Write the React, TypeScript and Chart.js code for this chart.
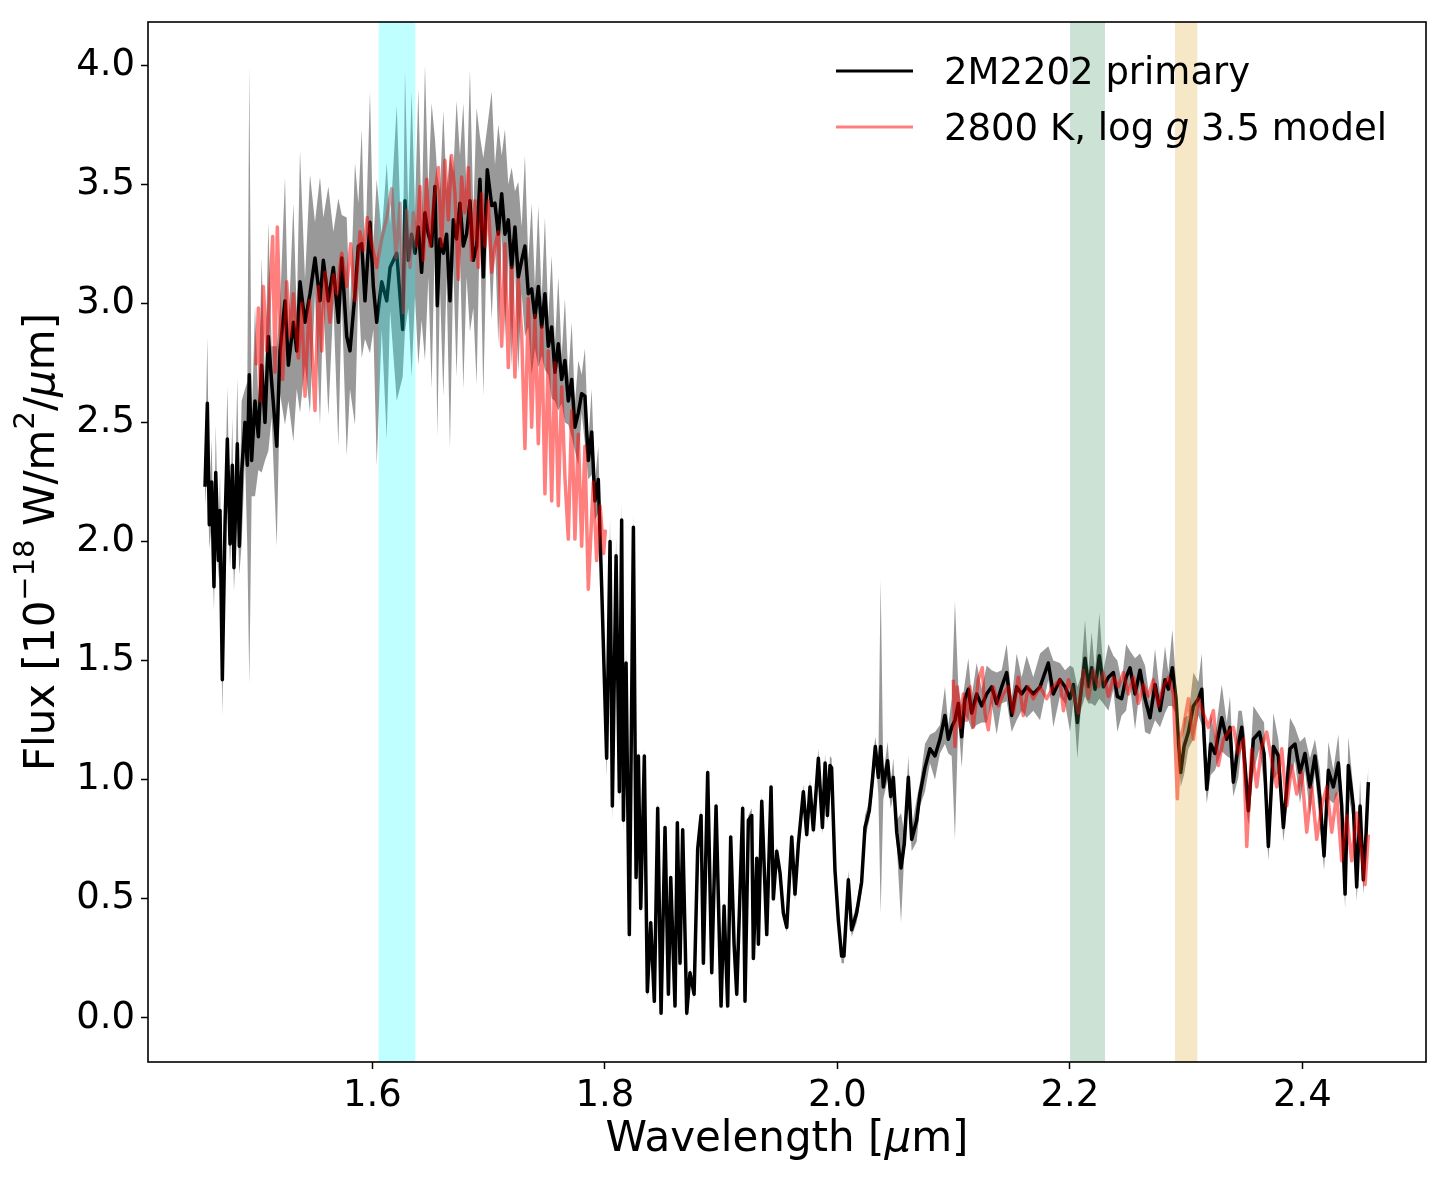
import React, { useEffect, useRef } from "react";
import { Chart, registerables } from "chart.js";

Chart.register(...registerables);

// ---------- axis extents & ticks ----------
const xMin = 1.40705;
const xMax = 2.5064;
const yMin = -0.1847;
const yMax = 4.1805;
const xTicks = [1.6, 1.8, 2.0, 2.2, 2.4];
const yTicks = [0.0, 0.5, 1.0, 1.5, 2.0, 2.5, 3.0, 3.5, 4.0];

// ---------- shaded wavelength windows ----------
const bandStarts = [1.6055, 2.2002, 2.2905];
const bandEnds = [1.637, 2.2303, 2.3097];
const bandColors = ["rgba(0,255,255,0.25)", "rgba(46,139,87,0.25)", "rgba(218,165,32,0.25)"];

// ---------- legend ----------
const legendPrimary = "2M2202 primary";
const legendModelParts = ["2800 K, log ", "g", " 3.5 model"];

// ---------- observed spectrum (2M2202 primary) ----------
const waveA = [
  1.4561, 1.4581, 1.4598, 1.4618, 1.4638, 1.4653, 1.4676, 1.469, 1.471, 1.4733,
  1.4753, 1.4776, 1.4796, 1.481, 1.4839, 1.4856, 1.4876, 1.4905, 1.4925, 1.4942,
  1.4962, 1.4991, 1.502, 1.5048, 1.5077, 1.5106, 1.5134, 1.5178, 1.5206, 1.5249,
  1.5278, 1.5321, 1.535, 1.5378, 1.5421, 1.5464, 1.5507, 1.555, 1.5579, 1.5622,
  1.5665, 1.5708, 1.5737, 1.578, 1.5808, 1.5851, 1.588, 1.5909, 1.5937, 1.598,
  1.6009, 1.6038, 1.6081, 1.6124, 1.6153, 1.621, 1.6261,
];
const fluxA = [
  2.23, 2.58, 2.07, 2.25, 1.81, 2.29, 1.92, 2.13, 1.42, 2.07,
  2.43, 1.99, 2.32, 1.89, 2.41, 1.98, 2.29, 2.5, 2.32, 2.7,
  2.34, 2.59, 2.44, 2.74, 2.5, 2.86, 2.67, 2.4, 2.8, 3.01,
  2.74, 2.92, 2.8, 3.09, 2.92, 3.04, 3.19, 3.01, 3.18, 3.01,
  3.15, 2.92, 3.19, 2.86, 2.8, 3.04, 3.24, 3.25, 3.01, 3.34,
  3.07, 2.92, 3.09, 3.01, 3.15, 3.21, 2.89,
];
const errA = [
  0.08, 0.28, 0.1, 0.18, 0.1, 0.2, 0.08, 0.16, 0.15, 0.1,
  0.22, 0.1, 0.2, 0.1, 0.28, 0.12, 0.3, 0.14, 0.35, 1.3,
  0.15, 0.4, 0.14, 0.45, 0.16, 0.48, 0.15, 0.42, 0.18, 0.52,
  0.15, 0.5, 0.16, 0.55, 0.18, 0.5, 0.15, 0.52, 0.18, 0.48,
  0.15, 0.52, 0.18, 0.5, 0.16, 0.55, 0.18, 0.48, 0.16, 0.55,
  0.18, 0.6, 0.2, 0.58, 0.18, 0.62, 0.2,
];

const waveB = [
  1.6281, 1.631, 1.6338, 1.6367, 1.6396, 1.6424, 1.6453, 1.6482, 1.651, 1.6539,
  1.6559, 1.6582, 1.6611, 1.6639, 1.6668, 1.6697, 1.6725, 1.6754, 1.6783, 1.6811,
  1.684, 1.6869, 1.6897, 1.6926, 1.6955, 1.6989, 1.7027, 1.7055, 1.7084, 1.7113,
  1.7141, 1.717, 1.7199, 1.7227, 1.7256, 1.7285, 1.7313, 1.7342, 1.7371, 1.7399,
  1.7428, 1.7457, 1.7485, 1.7514, 1.7543, 1.7571, 1.76, 1.7629, 1.7657, 1.7686,
  1.7715, 1.7743, 1.7772, 1.7801, 1.7829, 1.7858, 1.7887, 1.7915, 1.7944,
];
const fluxB = [
  3.43, 3.18, 3.29, 3.21, 3.32, 3.13, 3.38, 3.29, 3.24, 3.49,
  2.99, 3.27, 3.21, 3.29, 3.01, 3.35, 3.27, 3.42, 3.24, 3.29,
  3.43, 3.18, 3.24, 3.52, 3.11, 3.56, 3.41, 3.42, 3.29, 3.46,
  3.29, 3.35, 3.15, 3.32, 3.11, 3.18, 3.24, 3.04, 3.06, 2.94,
  3.07, 2.9, 3.04, 2.82, 2.9, 2.71, 2.83, 2.68, 2.76, 2.59,
  2.68, 2.48, 2.54, 2.62, 2.61, 2.34, 2.46, 2.17, 2.26,
];
const errB = [
  0.55, 0.2, 0.6, 0.18, 0.58, 0.2, 0.62, 0.18, 0.6, 0.2,
  0.55, 0.2, 0.6, 0.18, 0.62, 0.2, 0.58, 0.2, 0.6, 0.18,
  0.55, 0.2, 0.58, 0.18, 0.5, 0.18, 0.48, 0.16, 0.46, 0.16,
  0.44, 0.15, 0.42, 0.15, 0.4, 0.14, 0.38, 0.14, 0.36, 0.13,
  0.34, 0.12, 0.32, 0.12, 0.3, 0.12, 0.28, 0.1, 0.26, 0.1,
  0.24, 0.1, 0.22, 0.08, 0.2, 0.08, 0.18, 0.08, 0.14,
];

const waveC = [
  1.7973, 1.8016, 1.8045, 1.8065, 1.8097, 1.8125, 1.8145, 1.816, 1.8183, 1.8211,
  1.8246, 1.8269, 1.8289, 1.8309, 1.834, 1.8366, 1.8395, 1.8426, 1.8455, 1.8484,
  1.8518, 1.8547, 1.8567, 1.8604, 1.8624, 1.8647, 1.867, 1.8705, 1.8733, 1.8768,
  1.8799, 1.8828, 1.8848, 1.8885, 1.892, 1.8957, 1.9, 1.9026, 1.9057, 1.9083,
  1.9112, 1.9135, 1.9163, 1.9186, 1.9206, 1.9235, 1.9264, 1.9278, 1.9307, 1.9321,
  1.935, 1.9393, 1.943, 1.945, 1.9479, 1.9507, 1.9536, 1.9565, 1.9608, 1.9636,
  1.9665, 1.9708, 1.9737, 1.9765, 1.9794, 1.9837, 1.9872, 1.9895, 1.9915, 1.9937,
];
const fluxC = [
  1.81, 1.09, 2.0, 0.89, 1.94, 0.95, 2.09, 0.83, 1.49, 0.35,
  2.06, 0.59, 1.1, 0.46, 1.1, 0.11, 0.4, 0.07, 0.88, 0.02,
  0.8, 0.1, 0.59, 0.05, 0.82, 0.23, 0.79, 0.02, 0.19, 0.1,
  0.71, 0.85, 0.23, 1.03, 0.19, 0.89, 0.05, 0.47, 0.05, 0.76,
  0.31, 0.1, 0.53, 0.88, 0.07, 0.83, 0.85, 0.25, 0.67, 0.31,
  0.91, 0.35, 0.97, 0.5, 0.7, 0.61, 0.44, 0.38, 0.76, 0.52,
  0.73, 0.95, 0.77, 0.97, 0.79, 1.09, 0.8, 1.07, 0.85, 1.06,
];
const errC = [
  0.1, 0.08, 0.1, 0.06, 0.08, 0.06, 0.08, 0.05, 0.05, 0.04,
  0.06, 0.04, 0.04, 0.03, 0.03, 0.03, 0.02, 0.02, 0.03, 0.02,
  0.03, 0.02, 0.02, 0.02, 0.03, 0.02, 0.02, 0.02, 0.02, 0.02,
  0.02, 0.03, 0.02, 0.03, 0.02, 0.02, 0.02, 0.02, 0.02, 0.02,
  0.02, 0.02, 0.02, 0.03, 0.02, 0.02, 0.03, 0.02, 0.02, 0.02,
  0.03, 0.02, 0.03, 0.02, 0.02, 0.02, 0.02, 0.02, 0.02, 0.03,
  0.02, 0.03, 0.02, 0.03, 0.02, 0.04, 0.03, 0.04, 0.03, 0.04,
];

const waveD = [
  1.9951, 1.998, 2.0009, 2.0037, 2.0057, 2.0095, 2.0123, 2.0166, 2.0209, 2.0238,
  2.0275, 2.0304, 2.0327, 2.0353, 2.0373, 2.0396, 2.0433, 2.0459, 2.0482, 2.0511,
  2.0548, 2.0576, 2.0611, 2.064, 2.0683, 2.0711, 2.0754, 2.0797, 2.084, 2.0883,
  2.0926, 2.0955, 2.0984, 2.1012, 2.1041, 2.107, 2.1098, 2.1127, 2.1156, 2.1199,
  2.1242, 2.1285, 2.1328, 2.1371, 2.1414, 2.1457, 2.15, 2.1543, 2.1586, 2.1629,
  2.1686, 2.1744, 2.1815, 2.1858, 2.1915,
];
const fluxD = [
  1.05, 0.62, 0.41, 0.26, 0.26, 0.58, 0.37, 0.44, 0.57, 0.8,
  0.87, 1.01, 1.14, 1.01, 1.14, 0.97, 1.08, 0.93, 1.01, 0.78,
  0.63, 0.73, 1.01, 0.75, 0.83, 0.94, 1.05, 1.13, 1.1, 1.17,
  1.27, 1.17, 1.22, 1.25, 1.32, 1.18, 1.34, 1.38, 1.28, 1.36,
  1.31, 1.36, 1.39, 1.32, 1.39, 1.45, 1.27, 1.39, 1.36, 1.39,
  1.36, 1.39, 1.49, 1.36, 1.42,
];
const errD = [
  0.04, 0.03, 0.03, 0.03, 0.03, 0.04, 0.03, 0.04, 0.04, 0.05,
  0.04, 0.07, 0.04, 0.07, 0.7, 0.05, 0.08, 0.05, 0.08, 0.05,
  0.23, 0.05, 0.09, 0.05, 0.09, 0.05, 0.1, 0.06, 0.1, 0.06,
  0.12, 0.06, 0.12, 0.5, 0.07, 0.13, 0.07, 0.13, 0.07, 0.13,
  0.07, 0.12, 0.07, 0.13, 0.07, 0.12, 0.07, 0.14, 0.07, 0.13,
  0.07, 0.14, 0.07, 0.14, 0.07,
];

const waveE = [
  2.1959, 2.2002, 2.2031, 2.2065, 2.2094, 2.2131, 2.216, 2.2188, 2.2217, 2.2254,
  2.2289, 2.2332, 2.2375, 2.2409, 2.2446, 2.2484, 2.2518, 2.2561, 2.2604, 2.2647,
  2.269, 2.2733, 2.2776, 2.2819, 2.2848, 2.2882, 2.2914, 2.2937, 2.2954, 2.2983,
  2.302, 2.3063, 2.3106, 2.3135, 2.3178, 2.3212, 2.3249, 2.3307, 2.335, 2.3378,
  2.3407, 2.345, 2.3479, 2.3507, 2.3536, 2.3579, 2.3631, 2.3671, 2.3708, 2.3751,
  2.3794, 2.3837, 2.3894, 2.3937, 2.398, 2.4023, 2.4066, 2.4109, 2.4152, 2.4187,
  2.4224, 2.4267, 2.431, 2.4339, 2.4368, 2.4396, 2.4439, 2.4468, 2.4497, 2.4525,
  2.4548, 2.4568,
];
const fluxE = [
  1.39, 1.34, 1.4, 1.24, 1.36, 1.51, 1.39, 1.47, 1.38, 1.52,
  1.39, 1.43, 1.45, 1.35, 1.34, 1.43, 1.47, 1.36, 1.46, 1.34,
  1.26, 1.4, 1.29, 1.42, 1.38, 1.47, 1.34, 1.14, 1.03, 1.14,
  1.2, 1.31, 1.34, 1.38, 0.96, 1.15, 1.11, 1.26, 1.17, 1.22,
  0.99, 1.15, 1.22, 1.06, 0.87, 1.17, 1.2, 1.11, 0.72, 1.14,
  1.1, 0.8, 1.13, 1.15, 1.03, 1.11, 0.97, 1.1, 0.92, 0.68,
  1.04, 0.97, 1.07, 0.89, 0.52, 1.06, 0.89, 0.55, 0.89, 0.58,
  0.77, 0.99,
];
const errE = [
  0.07, 0.14, 0.07, 0.15, 0.07, 0.16, 0.07, 0.15, 0.07, 0.18,
  0.07, 0.14, 0.07, 0.15, 0.07, 0.14, 0.07, 0.15, 0.07, 0.14,
  0.07, 0.15, 0.07, 0.14, 0.07, 0.16, 0.07, 0.06, 0.06, 0.12,
  0.07, 0.14, 0.07, 0.15, 0.06, 0.13, 0.07, 0.14, 0.07, 0.13,
  0.06, 0.14, 0.07, 0.13, 0.06, 0.14, 0.07, 0.13, 0.06, 0.14,
  0.07, 0.06, 0.13, 0.07, 0.13, 0.07, 0.12, 0.07, 0.12, 0.06,
  0.12, 0.07, 0.12, 0.07, 0.06, 0.12, 0.07, 0.06, 0.11, 0.06,
  0.1, 0.07,
];

// ---------- model spectrum (2800 K, log g 3.5) ----------
const modelWaveH = [
  1.5, 1.502, 1.504, 1.5063, 1.5092, 1.5114, 1.5143, 1.5163, 1.5183, 1.5206,
  1.5229, 1.5264, 1.5292, 1.5321, 1.5364, 1.5393, 1.5421, 1.5459, 1.5507, 1.5536,
  1.5565, 1.5593, 1.5636, 1.5665, 1.5694, 1.5737, 1.578, 1.5814, 1.5851, 1.5894,
  1.5923, 1.5957, 1.5995, 1.6038, 1.6081, 1.6124, 1.6167, 1.6204, 1.6238, 1.6267,
  1.6295, 1.6324, 1.6353, 1.6381, 1.641, 1.6439, 1.6467, 1.6496, 1.6525, 1.6568,
  1.6596, 1.6625, 1.6654, 1.6682, 1.6711, 1.674, 1.6768, 1.6797, 1.6826, 1.6854,
  1.6883, 1.6912, 1.694, 1.6969, 1.6998, 1.7027, 1.7055, 1.7084, 1.7113, 1.7141,
  1.717, 1.7199, 1.7227, 1.7256, 1.7285, 1.7313, 1.7342, 1.7371, 1.7399, 1.7428,
  1.7457, 1.7485, 1.7514, 1.7543, 1.7571, 1.76, 1.7629, 1.7657, 1.7686, 1.7715,
  1.7743, 1.7772, 1.7801, 1.7829, 1.7858, 1.7901, 1.793, 1.796, 1.799, 1.8005,
];
const modelFluxH = [
  2.74, 2.98, 2.59, 3.07, 2.8, 3.01, 3.28, 2.71, 3.32, 2.92,
  2.68, 3.09, 2.86, 3.04, 2.77, 3.0, 2.61, 3.01, 2.55, 3.07,
  2.8, 3.13, 2.92, 3.12, 3.04, 3.21, 3.07, 3.25, 3.01, 3.3,
  3.22, 3.36, 3.25, 3.15, 3.27, 3.36, 3.48, 3.19, 3.42, 2.96,
  3.39, 3.15, 3.38, 3.24, 3.49, 3.18, 3.52, 3.24, 3.41, 3.57,
  3.24, 3.6, 3.35, 3.62, 3.46, 3.1, 3.53, 3.38, 3.57, 3.18,
  3.43, 3.15, 3.46, 3.24, 3.43, 3.13, 3.24, 3.3, 2.82, 3.25,
  2.73, 3.15, 2.69, 3.1, 2.87, 2.39, 3.02, 2.48, 2.95, 2.41,
  2.9, 2.2, 2.8, 2.17, 2.75, 2.15, 2.65, 2.27, 2.01, 2.55,
  2.01, 2.45, 1.98, 2.4, 1.8, 2.25, 1.92, 2.15, 1.95, 2.05,
];
const modelWaveK = [
  2.0998, 2.1012, 2.1032, 2.1055, 2.1084, 2.1113, 2.1141, 2.117, 2.1213, 2.1247,
  2.127, 2.1299, 2.1342, 2.1385, 2.1428, 2.1471, 2.1514, 2.1557, 2.16, 2.1643,
  2.1686, 2.1744, 2.1801, 2.1858, 2.1915, 2.1945, 2.1988, 2.2031, 2.2074, 2.2117,
  2.216, 2.2203, 2.2246, 2.2289, 2.2332, 2.2375, 2.2418, 2.2461, 2.2504, 2.2547,
  2.259, 2.2633, 2.2676, 2.2719, 2.2762, 2.2805, 2.2848, 2.2891, 2.2925, 2.2948,
  2.2977, 2.302, 2.3063, 2.3106, 2.3149, 2.3192, 2.3235, 2.3278, 2.3321, 2.3364,
  2.3407, 2.345, 2.3493, 2.3522, 2.3565, 2.3608, 2.3651, 2.3694, 2.3737, 2.378,
  2.3823, 2.3866, 2.3909, 2.3952, 2.3995, 2.4038, 2.4081, 2.4124, 2.4167, 2.421,
  2.4253, 2.4296, 2.4339, 2.4382, 2.4425, 2.4468, 2.4511, 2.454, 2.4568,
];
const modelFluxK = [
  1.42, 1.14, 1.39, 1.22, 1.36, 1.25, 1.39, 1.22, 1.42, 1.47,
  1.28, 1.21, 1.39, 1.31, 1.36, 1.39, 1.28, 1.43, 1.27, 1.39,
  1.34, 1.39, 1.34, 1.39, 1.42, 1.29, 1.42, 1.36, 1.28, 1.46,
  1.34, 1.46, 1.39, 1.45, 1.35, 1.43, 1.39, 1.45, 1.36, 1.43,
  1.32, 1.4, 1.35, 1.42, 1.31, 1.39, 1.43, 1.36, 0.92, 1.17,
  1.22, 1.34, 1.17, 1.34, 1.28, 1.22, 1.29, 1.06, 1.17, 1.2,
  1.22, 1.11, 1.17, 0.72, 1.13, 0.97, 1.14, 1.2, 1.08, 0.97,
  1.13, 0.89, 1.06, 0.94, 1.03, 0.78, 0.97, 0.75, 0.89, 0.97,
  0.78, 0.94, 0.66, 0.85, 0.66, 0.86, 0.69, 0.56, 0.77,
];

const FONT = '"DejaVu Sans", "Liberation Sans", sans-serif';

type Part = { t: string; font: string; dy?: number };

function drawParts(ctx: CanvasRenderingContext2D, parts: Part[], x: number, y: number, center: boolean) {
  let total = 0;
  const widths = parts.map((p) => {
    ctx.font = p.font;
    const w = ctx.measureText(p.t).width;
    total += w;
    return w;
  });
  let cx = center ? x - total / 2 : x;
  parts.forEach((p, i) => {
    ctx.font = p.font;
    ctx.fillText(p.t, cx, y - (p.dy || 0));
    cx += widths[i];
  });
}

const overlayPlugin = {
  id: "overlay",
  afterDatasetsDraw(chart: any) {
    const { ctx, chartArea } = chart;
    const xs = chart.scales.x;
    ctx.save();
    ctx.beginPath();
    ctx.rect(chartArea.left, chartArea.top, chartArea.right - chartArea.left, chartArea.bottom - chartArea.top);
    ctx.clip();
    for (let i = 0; i < bandStarts.length; i++) {
      const a = xs.getPixelForValue(bandStarts[i]);
      const b = xs.getPixelForValue(bandEnds[i]);
      ctx.fillStyle = bandColors[i];
      ctx.fillRect(a, chartArea.top, b - a, chartArea.bottom - chartArea.top);
    }
    ctx.restore();
  },
  afterDraw(chart: any) {
    const { ctx, chartArea } = chart;
    ctx.save();
    // frame
    ctx.strokeStyle = "#000";
    ctx.lineWidth = 1.6;
    ctx.strokeRect(chartArea.left, chartArea.top, chartArea.right - chartArea.left, chartArea.bottom - chartArea.top);

    // legend
    ctx.lineWidth = 3.2;
    ctx.strokeStyle = "#000";
    ctx.beginPath();
    ctx.moveTo(836, 71);
    ctx.lineTo(913, 71);
    ctx.stroke();
    ctx.strokeStyle = "rgba(255,0,0,0.5)";
    ctx.beginPath();
    ctx.moveTo(836, 127);
    ctx.lineTo(913, 127);
    ctx.stroke();
    ctx.fillStyle = "#000";
    ctx.textBaseline = "alphabetic";
    ctx.textAlign = "left";
    const lf = `37px ${FONT}`;
    const lfi = `italic 37px ${FONT}`;
    drawParts(ctx, [{ t: legendPrimary, font: lf }], 944, 84, false);
    drawParts(
      ctx,
      [
        { t: legendModelParts[0], font: lf },
        { t: legendModelParts[1], font: lfi },
        { t: legendModelParts[2], font: lf },
      ],
      944,
      140,
      false
    );

    // x axis title
    const af = `42px ${FONT}`;
    const afi = `italic 42px ${FONT}`;
    const sf = `29px ${FONT}`;
    const cxm = (chartArea.left + chartArea.right) / 2;
    drawParts(
      ctx,
      [
        { t: "Wavelength [", font: af },
        { t: "\u03bc", font: afi },
        { t: "m]", font: af },
      ],
      cxm,
      1151,
      true
    );

    // y axis title
    const cym = (chartArea.top + chartArea.bottom) / 2;
    ctx.translate(54, cym);
    ctx.rotate(-Math.PI / 2);
    drawParts(
      ctx,
      [
        { t: "Flux [10", font: af },
        { t: "\u221218", font: sf, dy: 20 },
        { t: " W/m", font: af },
        { t: "2", font: sf, dy: 20 },
        { t: "/", font: af },
        { t: "\u03bc", font: afi },
        { t: "m]", font: af },
      ],
      0,
      0,
      true
    );
    ctx.restore();
  },
};

export default function App() {
  const ref = useRef<HTMLCanvasElement>(null);

  useEffect(() => {
    document.body.style.margin = "0";
    const wave = [...waveA, ...waveB, ...waveC, ...waveD, ...waveE];
    const flux = [...fluxA, ...fluxB, ...fluxC, ...fluxD, ...fluxE];
    const err = [...errA, ...errB, ...errC, ...errD, ...errE];
    const primary = wave.map((x, i) => ({ x, y: flux[i] }));
    const upper = wave.map((x, i) => ({ x, y: flux[i] + err[i] }));
    const lower = wave.map((x, i) => ({ x, y: flux[i] - err[i] }));
    const modelH = modelWaveH.map((x, i) => ({ x, y: modelFluxH[i] }));
    const modelK = modelWaveK.map((x, i) => ({ x, y: modelFluxK[i] }));

    const tickFont = { family: FONT, size: 37 };
    const chart = new Chart(ref.current as HTMLCanvasElement, {
      type: "line",
      data: {
        datasets: [
          {
            label: "model H",
            data: modelH,
            borderColor: "rgba(255,0,0,0.5)",
            borderWidth: 3.5,
            borderJoinStyle: "round",
            pointRadius: 0,
            fill: false,
            order: 0,
          },
          {
            label: "model K",
            data: modelK,
            borderColor: "rgba(255,0,0,0.5)",
            borderWidth: 3.5,
            borderJoinStyle: "round",
            pointRadius: 0,
            fill: false,
            order: 0,
          },
          {
            label: "primary",
            data: primary,
            borderColor: "#000",
            borderWidth: 3.5,
            borderJoinStyle: "round",
            pointRadius: 0,
            fill: false,
            order: 1,
          },
          {
            label: "upper",
            data: upper,
            borderColor: "rgba(0,0,0,0)",
            borderWidth: 0,
            backgroundColor: "rgba(0,0,0,0.4)",
            pointRadius: 0,
            fill: "+1",
            order: 2,
          },
          {
            label: "lower",
            data: lower,
            borderColor: "rgba(0,0,0,0)",
            borderWidth: 0,
            pointRadius: 0,
            fill: false,
            order: 3,
          },
        ],
      },
      options: {
        responsive: false,
        animation: false,
        devicePixelRatio: 1,
        layout: { padding: { left: 0, top: 22, right: 23, bottom: 0 } },
        plugins: { legend: { display: false }, tooltip: { enabled: false } },
        scales: {
          x: {
            type: "linear",
            min: xMin,
            max: xMax,
            afterBuildTicks: (s: any) => {
              s.ticks = xTicks.map((v) => ({ value: v }));
            },
            afterFit: (s: any) => {
              s.height = 118;
              s.paddingLeft = 0;
              s.paddingRight = 0;
            },
            ticks: {
              callback: (v: any) => Number(v).toFixed(1),
              font: tickFont,
              color: "#000",
              padding: 5,
              maxRotation: 0,
              autoSkip: false,
            },
            grid: {
              drawOnChartArea: false,
              drawTicks: true,
              tickLength: 7,
              tickWidth: 1.5,
              tickColor: "#000",
            },
            border: { display: false },
          },
          y: {
            type: "linear",
            min: yMin,
            max: yMax,
            afterBuildTicks: (s: any) => {
              s.ticks = yTicks.map((v) => ({ value: v }));
            },
            afterFit: (s: any) => {
              s.width = 148;
              s.paddingTop = 0;
              s.paddingBottom = 0;
            },
            ticks: {
              callback: (v: any) => Number(v).toFixed(1),
              font: tickFont,
              color: "#000",
              padding: 6,
              autoSkip: false,
            },
            grid: {
              drawOnChartArea: false,
              drawTicks: true,
              tickLength: 7,
              tickWidth: 1.5,
              tickColor: "#000",
            },
            border: { display: false },
          },
        },
      },
      plugins: [overlayPlugin],
    } as any);
    return () => chart.destroy();
  }, []);

  return <canvas ref={ref} width={1449} height={1180} style={{ display: "block" }} />;
}
